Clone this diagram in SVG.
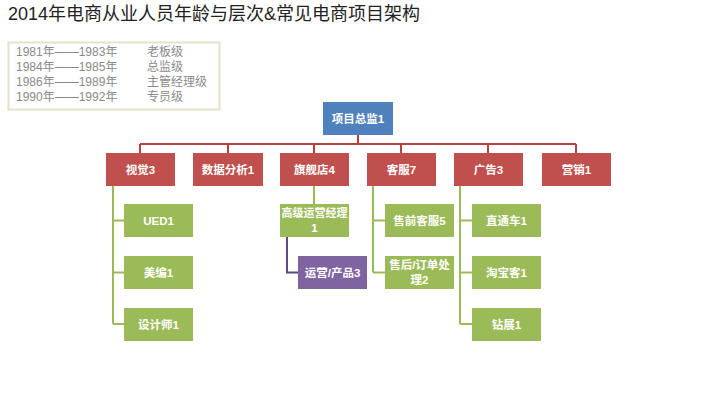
<svg xmlns="http://www.w3.org/2000/svg" width="720" height="405" viewBox="0 0 720 405">
<style>
.t{font-family:"Liberation Sans","Noto Sans CJK SC",sans-serif}
.title{font-size:18px;fill:#222}
.lg{font-size:12px;fill:#8a8a8a}
.nt{font-size:11.5px;font-weight:bold;fill:#fff;text-anchor:middle}
.blue{fill:#4f81bd}
.red{fill:#c0504d}
.green{fill:#9bbb59}
.purple{fill:#8064a2}
.cr{stroke:#b9403d;stroke-width:2;fill:none}
.cg{stroke:#9bbb59;stroke-width:2;fill:none}
.cp{stroke:#5e4a7e;stroke-width:2;fill:none}
</style>
<rect width="720" height="405" fill="#fff"/>
<text class="t title" x="8" y="20">2014年电商从业人员年龄与层次&amp;常见电商项目架构</text>
<g id="legend">
<rect x="8.5" y="42.5" width="211" height="67" fill="#fff" stroke="#e6e2cc" stroke-width="2"/>
<text class="t lg" x="16" y="56">1981年——1983年</text><text class="t lg" x="147" y="56">老板级</text>
<text class="t lg" x="16" y="71">1984年——1985年</text><text class="t lg" x="147" y="71">总监级</text>
<text class="t lg" x="16" y="86">1986年——1989年</text><text class="t lg" x="147" y="86">主管经理级</text>
<text class="t lg" x="16" y="101">1990年——1992年</text><text class="t lg" x="147" y="101">专员级</text>
</g>
<g id="connectors">
<path class="cr" d="M358 135V144M140 144H576M140 144V153M228 144V153M314 144V153M401 144V153M488 144V153M576 144V153"/>
<path class="cg" d="M113 186V324M113 220.5H124M113 272.5H124M113 324H124"/>
<path class="cg" d="M314 186V204"/>
<path class="cp" d="M287 237V272.5H298"/>
<path class="cg" d="M373 186V272.5M373 220.5H385M373 272.5H385"/>
<path class="cg" d="M460 186V324M460 220.5H472M460 272.5H472M460 324H472"/>
</g>
<g id="n-director"><rect class="blue" x="323" y="102" width="70" height="33"/><text class="t nt" x="358" y="123">项目总监1</text></g>
<g id="n-visual"><rect class="red" x="106" y="153" width="69" height="33"/><text class="t nt" x="140.5" y="174">视觉3</text></g>
<g id="n-data"><rect class="red" x="193" y="153" width="70" height="33"/><text class="t nt" x="228" y="174">数据分析1</text></g>
<g id="n-flagship"><rect class="red" x="280" y="153" width="69" height="33"/><text class="t nt" x="314.5" y="174">旗舰店4</text></g>
<g id="n-service"><rect class="red" x="367" y="153" width="69" height="33"/><text class="t nt" x="401.5" y="174">客服7</text></g>
<g id="n-ads"><rect class="red" x="454" y="153" width="69" height="33"/><text class="t nt" x="488.5" y="174">广告3</text></g>
<g id="n-marketing"><rect class="red" x="542" y="153" width="69" height="33"/><text class="t nt" x="576.5" y="174">营销1</text></g>
<g id="n-ued"><rect class="green" x="124" y="204" width="69" height="33"/><text class="t nt" x="158.5" y="225">UED1</text></g>
<g id="n-art"><rect class="green" x="124" y="256" width="69" height="33"/><text class="t nt" x="158.5" y="277">美编1</text></g>
<g id="n-designer"><rect class="green" x="124" y="308" width="69" height="33"/><text class="t nt" x="158.5" y="329">设计师1</text></g>
<g id="n-opmgr"><rect class="green" x="280" y="204" width="69" height="33"/><text class="t nt" x="314.5" y="217" style="font-size:11px">高级运营经理</text><text class="t nt" x="314.5" y="232">1</text></g>
<g id="n-opprod"><rect class="purple" x="298" y="256" width="69" height="33"/><text class="t nt" x="332.5" y="277">运营/产品3</text></g>
<g id="n-presale"><rect class="green" x="385" y="204" width="69" height="33"/><text class="t nt" x="419.5" y="225">售前客服5</text></g>
<g id="n-aftersale"><rect class="green" x="385" y="256" width="69" height="33"/><text class="t nt" x="419.5" y="269">售后/订单处</text><text class="t nt" x="419.5" y="284">理2</text></g>
<g id="n-ztc"><rect class="green" x="472" y="204" width="69" height="33"/><text class="t nt" x="506.5" y="225">直通车1</text></g>
<g id="n-tbk"><rect class="green" x="472" y="256" width="69" height="33"/><text class="t nt" x="506.5" y="277">淘宝客1</text></g>
<g id="n-zz"><rect class="green" x="472" y="308" width="69" height="33"/><text class="t nt" x="506.5" y="329">钻展1</text></g>
</svg>
